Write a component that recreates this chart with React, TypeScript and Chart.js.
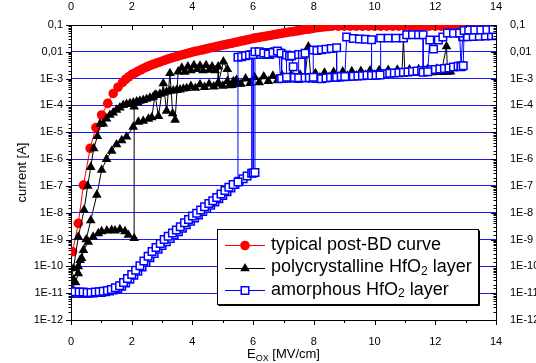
import React, { useEffect, useRef } from 'react';
import { Chart, registerables } from 'chart.js';

Chart.register(...registerables);

const FONT = '"Liberation Sans", Arial, Helvetica, sans-serif';

// ---- axes / texts ----
const xMin = 0;
const xMax = 14;
const xTickLabels = ['0', '2', '4', '6', '8', '10', '12', '14'];
const yMin = 1e-12;
const yMax = 0.1;
const yTickLabels = ['1E-12', '1E-11', '1E-10', '1E-9', '1E-8', '1E-7', '1E-6', '1E-5', '1E-4', '1E-3', '0,01', '0,1'];
const xTitleParts = ['E', 'OX', ' [MV/cm]'];
const yTitle = 'current [A]';
const legendLabels = [
  ['typical post-BD curve', '', ''],
  ['polycrystalline HfO', '2', ' layer'],
  ['amorphous HfO', '2', ' layer'],
];

// ---- data: [E_ox (MV/cm), current (A)] ----
const redCurve = [
  [0.05, 3.5e-10], [0.24, 4.0e-9], [0.41, 1.07e-7], [0.63, 2.5e-6], [0.82, 1.5e-5], [1.01, 4.4e-5],
  [1.21, 1.2e-4], [1.39, 2.8e-4], [1.55, 4.8e-4], [1.7, 7.2e-4], [1.8, 9.5e-4], [1.9, 1.17e-3],
  [2.0, 1.41e-3], [2.1, 1.62e-3], [2.2, 1.86e-3], [2.3, 2.14e-3], [2.4, 2.45e-3], [2.5, 2.75e-3],
  [2.6, 3.09e-3], [2.7, 3.39e-3], [2.8, 3.72e-3], [2.9, 4.07e-3], [3.0, 4.47e-3], [3.1, 4.9e-3],
  [3.2, 5.37e-3], [3.3, 5.89e-3], [3.4, 6.31e-3], [3.5, 6.76e-3], [3.6, 7.41e-3], [3.7, 7.94e-3],
  [3.8, 8.51e-3], [3.9, 9.12e-3], [4.0, 9.8e-3], [4.1, 1.05e-2], [4.2, 1.1e-2], [4.3, 1.17e-2],
  [4.4, 1.23e-2], [4.5, 1.32e-2], [4.6, 1.41e-2], [4.7, 1.48e-2], [4.8, 1.58e-2], [4.9, 1.66e-2],
  [5.0, 1.78e-2], [5.1, 1.86e-2], [5.2, 2.0e-2], [5.3, 2.09e-2], [5.4, 2.24e-2], [5.5, 2.34e-2],
  [5.6, 2.51e-2], [5.7, 2.63e-2], [5.8, 2.82e-2], [5.9, 2.95e-2], [6.0, 3.16e-2], [6.1, 3.31e-2],
  [6.2, 3.47e-2], [6.3, 3.63e-2], [6.4, 3.8e-2], [6.5, 3.98e-2], [6.6, 4.17e-2], [6.7, 4.37e-2],
  [6.8, 4.57e-2], [6.9, 4.79e-2], [7.0, 5.01e-2], [7.1, 5.25e-2], [7.2, 5.5e-2], [7.3, 5.62e-2],
  [7.4, 5.89e-2], [7.5, 6.17e-2], [7.6, 6.46e-2], [7.7, 6.76e-2], [7.8, 6.92e-2], [7.9, 7.24e-2],
  [8.0, 7.59e-2], [8.1, 7.94e-2], [8.2, 8.13e-2], [8.3, 8.51e-2], [8.4, 8.71e-2], [8.5, 8.91e-2],
  [8.6, 0.09], [8.8, 0.09], [9.0, 0.09], [9.2, 0.09], [9.4, 0.09], [9.6, 0.09], [9.8, 0.09],
  [10.0, 0.09], [10.2, 0.09], [10.4, 0.09], [10.6, 0.09], [10.8, 0.09], [11.0, 0.09], [11.2, 0.09],
  [11.4, 0.09], [11.6, 0.09], [11.8, 0.09], [12.0, 0.09], [12.2, 0.09], [12.4, 0.09], [12.6, 0.09],
  [12.8, 0.09], [13.0, 0.09], [13.2, 0.09], [13.4, 0.09], [13.6, 0.09], [13.8, 0.09], [14.0, 0.09],
];

// polycrystalline: three sweeps
const polySweepA = [
  [0.02, 8.5e-12], [0.08, 3.2e-11], [0.24, 1.0e-10], [0.3, 1.7e-10], [0.41, 4.0e-10], [0.57, 8.1e-10],
  [0.73, 1.26e-9], [0.9, 1.7e-9], [1.01, 2.0e-9], [1.18, 2.14e-9], [1.34, 2.24e-9], [1.45, 2.14e-9],
  [1.61, 2.4e-9], [1.78, 2.0e-9], [1.89, 1.48e-9], [2.08, 1.12e-9], [2.08, 8.9e-5], [2.2, 1.26e-4],
];
const polySweepB = [
  [0.0, 3.2e-11], [0.08, 8.3e-11], [0.24, 1.26e-9], [0.43, 1.26e-8], [0.55, 1.0e-7], [0.65, 5.0e-7],
  [0.75, 2.5e-6], [0.87, 7.1e-6], [0.96, 2.0e-5], [1.06, 2.1e-5], [1.17, 3.2e-5], [1.28, 4.4e-5],
  [1.39, 5.4e-5], [1.5, 6.8e-5], [1.61, 8.3e-5], [1.72, 1.02e-4], [1.83, 1.12e-4], [1.94, 1.2e-4],
  [2.05, 1.29e-4], [2.16, 1.38e-4], [2.27, 1.48e-4], [2.38, 1.58e-4], [2.49, 1.74e-4], [2.6, 1.91e-4],
  [2.71, 2.09e-4], [2.82, 2.4e-4], [2.93, 2.69e-4], [3.04, 2.95e-4], [3.15, 3.24e-4], [3.26, 3.47e-4],
  [3.37, 3.55e-4], [3.48, 3.72e-4], [3.59, 3.89e-4], [3.7, 4.17e-4], [3.81, 4.37e-4], [3.95, 5.25e-4],
  [4.1, 4.47e-4], [4.25, 6.03e-4], [4.4, 4.79e-4], [4.55, 6.31e-4], [4.7, 5.01e-4], [4.85, 7.08e-4],
  [5.0, 5.37e-4], [5.15, 7.94e-4], [5.3, 5.75e-4], [5.45, 8.91e-4], [5.6, 6.31e-4], [5.75, 1.0e-3],
  [5.9, 6.76e-4], [6.05, 1.12e-3], [6.2, 7.24e-4], [6.35, 1.2e-3], [6.5, 7.94e-4], [6.65, 1.26e-3],
  [6.8, 8.51e-4], [6.95, 1.32e-3], [7.1, 9.12e-4], [7.25, 1.35e-3], [7.4, 9.55e-4], [7.55, 1.38e-3],
  [7.7, 1.0e-3], [7.82, 1.55e-2], [7.9, 1.05e-3], [8.05, 1.58e-3], [8.2, 1.1e-3], [8.35, 1.66e-3],
  [8.5, 1.15e-3], [8.65, 1.74e-3], [8.8, 1.2e-3], [8.95, 1.82e-3], [9.1, 1.26e-3], [9.25, 1.86e-3],
  [9.4, 1.29e-3], [9.55, 1.91e-3], [9.7, 1.35e-3], [9.85, 2.0e-3], [10.0, 1.38e-3], [10.15, 2.04e-3],
  [10.3, 1.45e-3], [10.45, 2.09e-3], [10.6, 1.48e-3], [10.75, 2.14e-3], [10.9, 1.51e-3], [10.95, 3.16e-2],
  [11.0, 1.55e-3], [11.15, 2.19e-3], [11.3, 1.58e-3], [11.45, 2.24e-3], [11.6, 1.62e-3], [11.75, 2.29e-3],
  [11.9, 1.7e-3], [12.05, 2.34e-3], [12.2, 1.74e-3], [12.37, 1.58e-2], [12.4, 1.78e-3], [12.5, 1.82e-3],
];
const polySweepC = [
  [0.02, 1.26e-11], [0.15, 2.5e-11], [0.24, 5.4e-11], [0.35, 2.0e-10], [0.5, 1.0e-9], [0.65, 5.2e-9],
  [0.85, 4.6e-8], [1.01, 3.9e-7], [1.17, 1.0e-6], [1.34, 2.0e-6], [1.5, 3.5e-6], [1.67, 5.0e-6],
  [1.83, 6.8e-6], [2.05, 1.58e-5], [2.22, 2.45e-5], [2.38, 2.63e-5], [2.55, 3.16e-5], [2.66, 3.55e-5],
  [2.77, 2.5e-4], [2.88, 4.0e-5], [3.04, 6.6e-4], [3.15, 6.3e-5], [3.26, 1.58e-3], [3.35, 5.0e-5],
  [3.43, 2.9e-5], [3.53, 1.82e-3], [3.65, 2.5e-3], [3.75, 1.78e-3], [3.85, 2.8e-3], [3.95, 2.0e-3],
  [4.05, 3.16e-3], [4.15, 2.24e-3], [4.25, 3.0e-3], [4.35, 2.0e-3], [4.45, 3.16e-3], [4.55, 2.1e-3],
  [4.65, 2.8e-3], [4.75, 2.0e-3], [4.85, 2.8e-3], [4.85, 6.3e-4], [5.02, 4.3e-3], [5.15, 2.24e-3],
  [5.22, 5.6e-4], [5.35, 7.9e-4], [5.5, 6.3e-4],
];

// amorphous: two sweeps
const amorSweepA = [
  [0.0, 1.17e-11], [0.13, 1.12e-11], [0.27, 1.1e-11], [0.4, 1.1e-11], [0.53, 1.07e-11], [0.66, 1.07e-11],
  [0.8, 1.1e-11], [0.93, 1.12e-11], [1.06, 1.17e-11], [1.2, 1.26e-11], [1.33, 1.38e-11], [1.46, 1.58e-11],
  [1.6, 1.9e-11], [1.73, 2.5e-11], [1.86, 3.55e-11], [2.0, 5.0e-11], [2.13, 7.1e-11], [2.27, 1.05e-10],
  [2.4, 1.58e-10], [2.54, 2.4e-10], [2.67, 3.55e-10], [2.8, 5.0e-10], [2.94, 7.1e-10], [3.07, 1.0e-9],
  [3.2, 1.32e-9], [3.34, 1.74e-9], [3.47, 2.29e-9], [3.6, 3.0e-9], [3.74, 4.2e-9], [3.87, 5.6e-9],
  [4.0, 7.6e-9], [4.14, 9.5e-9], [4.27, 1.26e-8], [4.4, 1.66e-8], [4.54, 2.2e-8], [4.67, 2.8e-8],
  [4.8, 3.7e-8], [4.94, 5.0e-8], [5.07, 6.8e-8], [5.2, 8.9e-8], [5.34, 1.12e-7], [5.5, 1.41e-7],
  [5.5, 6.3e-3], [5.62, 6.6e-3], [5.75, 7.1e-3], [5.88, 7.6e-3], [6.0, 7.9e-3], [6.0, 3.0e-7],
  [6.06, 3.16e-7], [6.06, 1.0e-2], [6.2, 1.0e-2], [6.35, 9.1e-3], [6.5, 8.3e-3], [6.65, 9.5e-3],
  [6.8, 1.07e-2], [6.92, 8.9e-3], [6.94, 1.02e-3], [7.1, 1.12e-3], [7.1, 7.6e-3], [7.2, 6.8e-3],
  [7.27, 7.1e-3], [7.32, 2.8e-3], [7.36, 1.1e-3], [7.5, 1.07e-3], [7.5, 7.9e-3], [7.62, 7.9e-3],
  [7.71, 8.9e-3], [7.71, 1.07e-3], [7.85, 1.07e-3], [7.98, 1.12e-3], [7.98, 1.17e-2], [8.1, 1.12e-2],
  [8.25, 1.2e-2], [8.4, 1.26e-2], [8.57, 1.32e-2], [8.75, 1.41e-2], [8.75, 1.12e-3], [8.9, 1.2e-3],
  [9.02, 1.2e-3], [9.08, 3.6e-2], [9.3, 3.16e-2], [9.5, 3.0e-2], [9.7, 2.95e-2], [9.9, 2.8e-2],
  [9.9, 1.32e-3], [10.05, 1.35e-3], [10.18, 1.38e-3], [10.2, 3.24e-2], [10.45, 3.24e-2], [10.7, 3.24e-2],
  [10.95, 3.24e-2], [11.06, 4.3e-2], [11.25, 4.3e-2], [11.45, 4.3e-2], [11.6, 4.3e-2], [11.6, 1.74e-3],
  [11.75, 1.82e-3], [11.82, 2.75e-2], [11.94, 1.26e-2], [12.1, 2.75e-2], [12.25, 3.55e-2], [12.4, 5.0e-2],
  [12.6, 4.9e-2], [12.8, 5.0e-2], [12.85, 2.8e-3], [12.92, 3.0e-3], [12.95, 6.3e-2], [13.1, 6.46e-2],
  [13.3, 6.46e-2], [13.5, 6.46e-2], [13.7, 6.6e-2], [13.9, 6.76e-2],
];
const amorSweepB = [
  [0.07, 1.05e-11], [0.2, 1.0e-11], [0.34, 1.0e-11], [0.47, 1.0e-11], [0.6, 1.0e-11], [0.74, 1.02e-11],
  [0.87, 1.05e-11], [1.0, 1.07e-11], [1.14, 1.12e-11], [1.27, 1.2e-11], [1.4, 1.32e-11], [1.54, 1.48e-11],
  [1.67, 1.82e-11], [1.8, 2.4e-11], [1.94, 3.3e-11], [2.07, 4.7e-11], [2.2, 6.6e-11], [2.34, 9.5e-11],
  [2.47, 1.41e-10], [2.6, 2.1e-10], [2.74, 3.0e-10], [2.87, 4.3e-10], [3.0, 6.0e-10], [3.14, 8.3e-10],
  [3.27, 1.1e-9], [3.4, 1.48e-9], [3.54, 1.95e-9], [3.67, 2.63e-9], [3.8, 3.55e-9], [3.94, 4.8e-9],
  [4.07, 6.3e-9], [4.2, 8.3e-9], [4.34, 1.1e-8], [4.47, 1.45e-8], [4.6, 1.9e-8], [4.74, 2.5e-8],
  [4.87, 3.3e-8], [5.0, 4.4e-8], [5.14, 6.0e-8], [5.27, 8.3e-8], [5.4, 1.12e-7], [5.54, 1.48e-7],
  [5.67, 1.86e-7], [5.8, 2.34e-7], [5.95, 2.95e-7], [5.95, 7.9e-3], [6.1, 8.9e-3], [6.25, 7.9e-3],
  [6.4, 9.5e-3], [6.55, 7.9e-3], [6.7, 1.0e-2], [6.85, 9.1e-3], [6.9, 1.02e-3], [7.05, 1.07e-3],
  [7.2, 1.05e-3], [7.35, 1.07e-3], [7.5, 1.02e-3], [7.65, 1.1e-3], [7.8, 1.07e-3], [7.95, 1.05e-3],
  [8.1, 1.02e-3], [8.25, 1.0e-3], [8.4, 1.05e-3], [8.55, 1.1e-3], [8.7, 1.12e-3], [8.85, 1.15e-3],
  [9.0, 1.17e-3], [9.15, 1.2e-3], [9.3, 1.23e-3], [9.45, 1.26e-3], [9.6, 1.29e-3], [9.75, 1.35e-3],
  [9.9, 1.38e-3], [10.05, 1.41e-3], [10.2, 1.48e-3], [10.35, 1.51e-3], [10.5, 1.58e-3], [10.65, 1.62e-3],
  [10.8, 1.66e-3], [10.95, 1.74e-3], [11.1, 1.78e-3], [11.25, 1.86e-3], [11.4, 1.91e-3], [11.55, 2.0e-3],
  [11.7, 2.04e-3], [11.85, 2.14e-3], [12.0, 2.19e-3], [12.15, 2.29e-3], [12.3, 2.4e-3], [12.45, 2.5e-3],
  [12.6, 2.69e-3], [12.75, 2.88e-3], [12.85, 3.0e-3], [12.9, 3.63e-2], [13.05, 3.63e-2], [13.25, 3.72e-2],
  [13.45, 3.8e-2], [13.65, 3.89e-2], [13.85, 3.98e-2], [14.0, 4.17e-2],
];

// ---- styles ----
const RED = '#ff0000';
const BLACK = '#000000';
const BLUE = '#0000ff';
const GRID_BLUE = '#1a1aff';
const RED_R = 4.8;
const TRI_R = 5.6;
const SQ_R = 5.3;

const toPts = (arr: number[][]) => arr.map(([x, y]) => ({ x, y }));
const decadeOf = (v: number) => Math.round(Math.log10(v));
const isDecade = (v: number) => Math.abs(Math.log10(v) - decadeOf(v)) < 1e-6;

function drawMarker(ctx: CanvasRenderingContext2D, kind: number, x: number, y: number) {
  ctx.save();
  if (kind === 0) {
    ctx.fillStyle = RED;
    ctx.beginPath();
    ctx.arc(x, y, RED_R, 0, Math.PI * 2);
    ctx.fill();
  } else if (kind === 1) {
    const r = TRI_R;
    ctx.fillStyle = BLACK;
    ctx.beginPath();
    ctx.moveTo(x, y - r);
    ctx.lineTo(x + r * 0.866, y + r / 2);
    ctx.lineTo(x - r * 0.866, y + r / 2);
    ctx.closePath();
    ctx.fill();
  } else {
    const s = SQ_R * Math.SQRT1_2;
    ctx.fillStyle = '#fff';
    ctx.strokeStyle = BLUE;
    ctx.lineWidth = 1.5;
    ctx.fillRect(x - s, y - s, 2 * s, 2 * s);
    ctx.strokeRect(x - s, y - s, 2 * s, 2 * s);
  }
  ctx.restore();
}

const decorPlugin = {
  id: 'decor',
  afterDraw(chart: any) {
    const ctx: CanvasRenderingContext2D = chart.ctx;
    const { left, right, top, bottom } = chart.chartArea;
    const xs = chart.scales.x;
    const ys = chart.scales.y;
    ctx.save();
    // tick marks
    ctx.strokeStyle = '#000';
    ctx.lineWidth = 1;
    ctx.beginPath();
    xs.ticks.forEach((t: any) => {
      const px = Math.round(xs.getPixelForValue(t.value)) + 0.5;
      const len = Math.round(t.value) % 2 === 0 ? 5 : 3;
      ctx.moveTo(px, bottom);
      ctx.lineTo(px, bottom + len);
      ctx.moveTo(px, top);
      ctx.lineTo(px, top + len);
    });
    ys.ticks.forEach((t: any) => {
      const py = Math.round(ys.getPixelForValue(t.value)) + 0.5;
      const len = isDecade(t.value) ? 5 : 2.5;
      ctx.moveTo(left, py);
      ctx.lineTo(left - len, py);
      ctx.moveTo(right, py);
      ctx.lineTo(right - len, py);
    });
    ctx.stroke();

    // x title with subscript
    ctx.fillStyle = '#000';
    ctx.textBaseline = 'alphabetic';
    ctx.textAlign = 'left';
    const big = `13px ${FONT}`;
    const small = `9px ${FONT}`;
    ctx.font = big;
    const w0 = ctx.measureText(xTitleParts[0]).width;
    const w2 = ctx.measureText(xTitleParts[2]).width;
    ctx.font = small;
    const w1 = ctx.measureText(xTitleParts[1]).width;
    let tx = (left + right) / 2 - (w0 + w1 + w2) / 2;
    const ty = 358;
    ctx.font = big;
    ctx.fillText(xTitleParts[0], tx, ty);
    tx += w0;
    ctx.font = small;
    ctx.fillText(xTitleParts[1], tx, ty + 3);
    tx += w1;
    ctx.font = big;
    ctx.fillText(xTitleParts[2], tx, ty);

    // y title
    ctx.save();
    ctx.translate(22, (top + bottom) / 2);
    ctx.rotate(-Math.PI / 2);
    ctx.textAlign = 'center';
    ctx.textBaseline = 'middle';
    ctx.font = `13px ${FONT}`;
    ctx.fillText(yTitle, 0, 0);
    ctx.restore();

    // legend box
    const bx = 217.5, by = 229.5, bw = 261, bh = 75;
    ctx.fillStyle = '#fff';
    ctx.fillRect(bx, by, bw, bh);
    ctx.strokeStyle = '#000';
    ctx.lineWidth = 1;
    ctx.strokeRect(bx, by, bw, bh);
    ctx.beginPath();
    ctx.moveTo(bx + bw + 1, by + 1);
    ctx.lineTo(bx + bw + 1, by + bh + 1);
    ctx.lineTo(bx + 1, by + bh + 1);
    ctx.stroke();

    const colors = [RED, BLACK, BLUE];
    const rowY = [245, 267.5, 290];
    legendLabels.forEach((parts, i) => {
      const y = rowY[i];
      ctx.strokeStyle = colors[i];
      ctx.lineWidth = 1;
      ctx.beginPath();
      ctx.moveTo(225, Math.round(y) + 0.5);
      ctx.lineTo(265, Math.round(y) + 0.5);
      ctx.stroke();
      drawMarker(ctx, i, 245, Math.round(y) + 0.5);
      ctx.fillStyle = '#000';
      ctx.textBaseline = 'middle';
      ctx.textAlign = 'left';
      let x = 271;
      ctx.font = `18px ${FONT}`;
      ctx.fillText(parts[0], x, y);
      x += ctx.measureText(parts[0]).width;
      if (parts[1]) {
        ctx.font = `12px ${FONT}`;
        ctx.fillText(parts[1], x, y + 4);
        x += ctx.measureText(parts[1]).width;
      }
      if (parts[2]) {
        ctx.font = `18px ${FONT}`;
        ctx.fillText(parts[2], x, y);
      }
    });
    ctx.restore();
  },
};

export default function App() {
  const ref = useRef<HTMLCanvasElement | null>(null);
  useEffect(() => {
    if (!ref.current) return;
    const tickFont = { family: FONT, size: 11 };
    const xTick = (v: any) => {
      const n = Math.round(Number(v));
      return n % 2 === 0 ? xTickLabels[n / 2] : '';
    };
    const yTick = (v: any) => {
      const n = Number(v);
      return isDecade(n) ? yTickLabels[decadeOf(n) + 12] : '';
    };
    const redStyle = {
      borderColor: RED, backgroundColor: RED, borderWidth: 1,
      pointStyle: 'circle', pointRadius: RED_R, pointBorderWidth: 0,
      pointBackgroundColor: RED, pointBorderColor: RED, order: 3,
    };
    const blackStyle = {
      borderColor: BLACK, backgroundColor: BLACK, borderWidth: 1,
      pointStyle: 'triangle', pointRadius: TRI_R, pointBorderWidth: 0,
      pointBackgroundColor: BLACK, pointBorderColor: BLACK, order: 2,
    };
    const blueStyle = {
      borderColor: BLUE, backgroundColor: '#fff', borderWidth: 1,
      pointStyle: 'rect', pointRadius: SQ_R, pointBorderWidth: 1.5,
      pointBackgroundColor: '#fff', pointBorderColor: BLUE, order: 1,
    };
    const chart = new Chart(ref.current, {
      type: 'line',
      data: {
        datasets: [
          { label: 'typical post-BD curve', data: toPts(redCurve), ...redStyle } as any,
          { label: 'polycrystalline A', data: toPts(polySweepA), ...blackStyle } as any,
          { label: 'polycrystalline B', data: toPts(polySweepB), ...blackStyle } as any,
          { label: 'polycrystalline C', data: toPts(polySweepC), ...blackStyle } as any,
          { label: 'amorphous A', data: toPts(amorSweepA), ...blueStyle } as any,
          { label: 'amorphous B', data: toPts(amorSweepB), ...blueStyle } as any,
        ],
      },
      options: {
        responsive: false,
        animation: false,
        devicePixelRatio: 1,
        events: [],
        layout: { padding: 0 },
        plugins: { legend: { display: false }, tooltip: { enabled: false } },
        elements: { line: { tension: 0 } },
        scales: {
          x: {
            type: 'linear', position: 'bottom', min: xMin, max: xMax,
            ticks: { stepSize: 1, autoSkip: false, maxRotation: 0, padding: 7, color: '#000', font: tickFont, callback: xTick },
            grid: { display: false },
            border: { display: true, color: '#000', width: 1 },
            afterFit: (s: any) => { s.height = 43; },
          },
          x2: {
            type: 'linear', position: 'top', min: xMin, max: xMax,
            ticks: { stepSize: 1, autoSkip: false, maxRotation: 0, padding: 3, color: '#000', font: tickFont, callback: xTick },
            grid: { display: false },
            border: { display: true, color: '#000', width: 1 },
            afterFit: (s: any) => { s.height = 25; },
          },
          y: {
            type: 'logarithmic', position: 'left', min: yMin, max: yMax,
            ticks: { autoSkip: false, padding: 8, color: '#000', font: tickFont, callback: yTick },
            grid: {
              drawTicks: false, lineWidth: 1,
              color: (c: any) => {
                const v = c.tick && c.tick.value;
                if (!v || !isDecade(v)) return 'rgba(0,0,0,0)';
                const d = decadeOf(v);
                return d > -12 && d < -1 ? GRID_BLUE : 'rgba(0,0,0,0)';
              },
            },
            border: { display: true, color: '#000', width: 1 },
            afterFit: (s: any) => { s.width = 71; },
          },
          y2: {
            type: 'logarithmic', position: 'right', min: yMin, max: yMax,
            ticks: { autoSkip: false, padding: 6, color: '#000', font: tickFont, callback: yTick },
            grid: { display: false },
            border: { display: true, color: '#000', width: 1 },
            afterFit: (s: any) => { s.width = 40; },
          },
        },
      } as any,
      plugins: [decorPlugin as any],
    });
    return () => chart.destroy();
  }, []);
  return (
    <div style={{ position: 'absolute', left: 0, top: 0, width: 536, height: 363, background: '#fff' }}>
      <canvas ref={ref} width={536} height={363} style={{ display: 'block', width: 536, height: 363 }} />
    </div>
  );
}
